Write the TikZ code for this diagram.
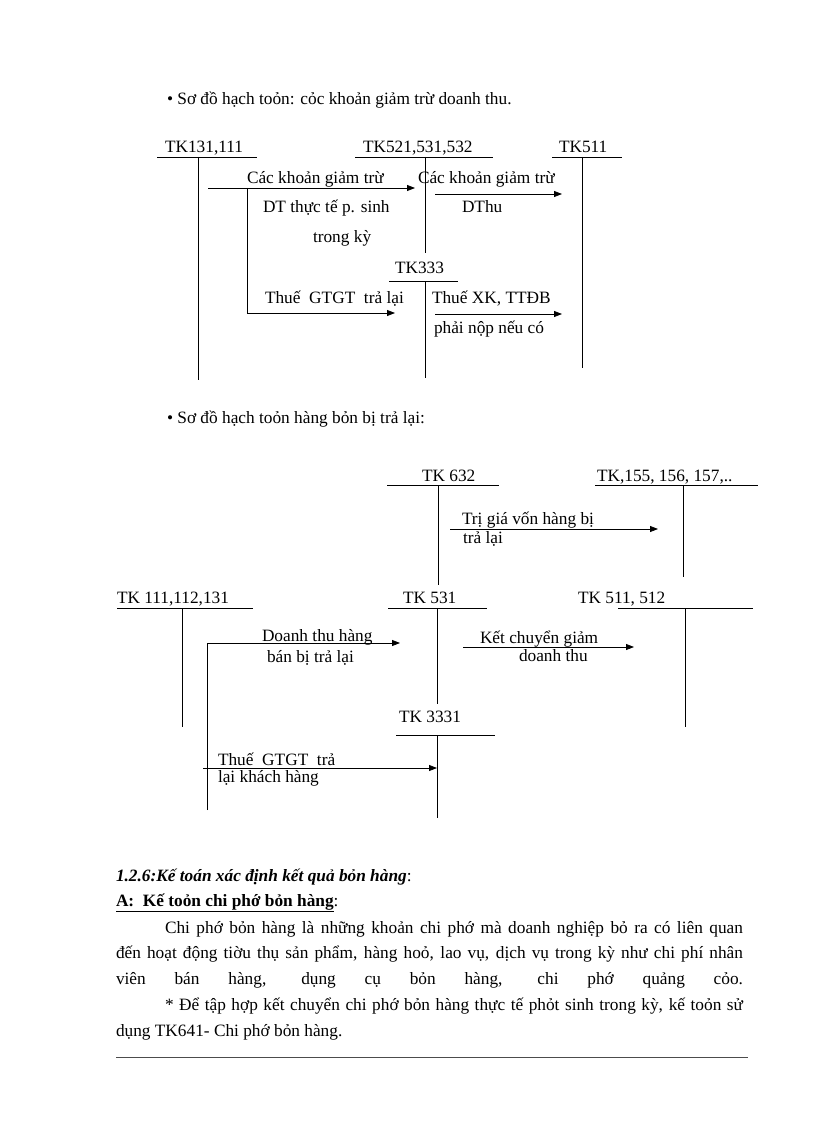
\documentclass[tikz,border=0pt]{standalone}
\usepackage{fontspec}
\setmainfont{Liberation Serif}
\usetikzlibrary{arrows.meta}
\newcommand\fsz{\fontsize{17.3}{20}\selectfont}
\newcommand\tacct[9]{%
  \node[lbl] (#1) at (#2,#3) {#4};
  \coordinate (#1-l) at (#5,#7);
  \coordinate (#1-r) at (#6,#7);
  \coordinate (#1-t) at (#8,#7);
  \coordinate (#1-b) at (#8,#9);
  \draw[acct] (#1-l) -- (#1-r) (#1-t) -- (#1-b);
}
\tikzset{
  lbl/.style={anchor=base west, inner sep=0pt, outer sep=0pt, font=\fsz},
  acct/.style={line width=0.8pt, draw=black},
  arr/.style={line width=0.8pt, draw=black, -{Triangle[length=8pt,width=6pt]}},
}
\begin{document}
\begin{tikzpicture}[x=1pt,y=-1pt]
\useasboundingbox (0,0) rectangle (816,1123);

% ---------- Diagram 1 ----------
\node[lbl] (title1) at (167,105) {• Sơ đồ hạch toỏn: cỏc khoản giảm trừ doanh thu.};

\tacct{tkA}{165}{153}{TK131,111}{157}{257}{157}{198}{380}
\tacct{tkB}{363}{153}{TK521,531,532}{355}{493}{157}{425}{253}
\tacct{tkC}{559}{153}{TK511}{552}{622}{157}{582}{368}
\tacct{tkD}{395}{273}{TK333}{389}{458}{281}{425}{378}

\coordinate (a1s) at (208,188); \coordinate (a1e) at (415,188);
\draw[arr] (a1s) -- (a1e);
\node[lbl] (l1a) at (247,184) {Các khoản giảm trừ};
\node[lbl] (l1b) at (263,213) {DT thực tế p. sinh};
\node[lbl] (l1c) at (313,243) {trong kỳ};

\coordinate (a2s) at (247,188); \coordinate (a2c) at (247,313); \coordinate (a2e) at (395,313);
\draw[arr] (a2s) -- (a2c) -- (a2e);
\node[lbl] (l2a) at (265,303) {Thuế \ GTGT \ trả lại};

\coordinate (a3s) at (435,194); \coordinate (a3e) at (562,194);
\draw[arr] (a3s) -- (a3e);
\node[lbl] (l3a) at (418,184) {Các khoản giảm trừ};
\node[lbl] (l3b) at (462,213) {DThu};

\coordinate (a4s) at (435,314); \coordinate (a4e) at (562,314);
\draw[arr] (a4s) -- (a4e);
\node[lbl] (l4a) at (432,303) {Thuế XK, TTĐB};
\node[lbl] (l4b) at (434,333) {phải nộp nếu có};

% ---------- Diagram 2 ----------
\node[lbl] (title2) at (167,423) {• Sơ đồ hạch toỏn hàng bỏn bị trả lại:};

\tacct{tkE}{422}{481}{TK 632}{387}{499}{485}{438}{585}
\tacct{tkF}{597}{481}{TK,155, 156, 157,..}{595}{758}{485}{683}{577}
\tacct{tkG}{117}{603}{TK 111,112,131}{117}{253}{608}{182}{727}
\tacct{tkH}{403}{603}{TK 531}{388}{487}{608}{437}{704}
\tacct{tkI}{578}{603}{TK 511, 512}{618}{753}{608}{685}{727}
\tacct{tkJ}{399}{722}{TK 3331}{396}{495}{735}{437}{818}

\coordinate (b1s) at (450,529); \coordinate (b1e) at (658,529);
\draw[arr] (b1s) -- (b1e);
\node[lbl] (m1a) at (462,524) {Trị giá vốn hàng bị};
\node[lbl] (m1b) at (463,543) {trả lại};

\coordinate (b2s) at (207,810); \coordinate (b2c) at (207,643); \coordinate (b2e) at (400,643);
\draw[arr] (b2s) -- (b2c) -- (b2e);
\node[lbl] (m2a) at (262,641) {Doanh thu hàng};
\node[lbl] (m2b) at (267,662) {bán bị trả lại};

\coordinate (b3s) at (463,647); \coordinate (b3e) at (634,647);
\draw[arr] (b3s) -- (b3e);
\node[lbl] (m3a) at (480,643) {Kết chuyển giảm};
\node[lbl] (m3b) at (519,661) {doanh thu};

\coordinate (b4s) at (203,768); \coordinate (b4e) at (437,768);
\draw[arr] (b4s) -- (b4e);
\node[lbl] (m4a) at (218,765) {Thuế \ GTGT \ trả};
\node[lbl] (m4b) at (218,782) {lại khách hàng};

% ---------- Text ----------
\node[lbl] (h1) at (116,881) {\textbf{\textit{1.2.6:Kế toán xác định kết quả bỏn hàng}}:};
\node[lbl] (h2) at (116,906) {\underline{\textbf{A:\ \ Kế toỏn chi phớ bỏn hàng}}:};
\node[lbl] (p1) at (165,933) {\makebox[578pt][s]{Chi phớ bỏn hàng là những khoản chi phớ mà doanh nghiệp bỏ ra có liên quan}};
\node[lbl] (p2) at (116,958) {\makebox[627pt][s]{đến hoạt động tiờu thụ sản phẩm, hàng hoỏ, lao vụ, dịch vụ trong kỳ như chi phí nhân}};
\node[lbl] (p3) at (116,984) {\makebox[627pt][s]{viên bán hàng, dụng cụ bỏn hàng, chi phớ quảng cỏo.}};
\node[lbl] (p4) at (165,1010) {\makebox[578pt][s]{* Để tập hợp kết chuyển chi phớ bỏn hàng thực tế phỏt sinh trong kỳ, kế toỏn sử}};
\node[lbl] (p5) at (116,1036) {dụng TK641- Chi phớ bỏn hàng.};
\coordinate (r1) at (116,1057); \coordinate (r2) at (748,1057);
\draw[line width=0.8pt, draw=black!70] (r1) -- (r2);
\end{tikzpicture}
\end{document}
